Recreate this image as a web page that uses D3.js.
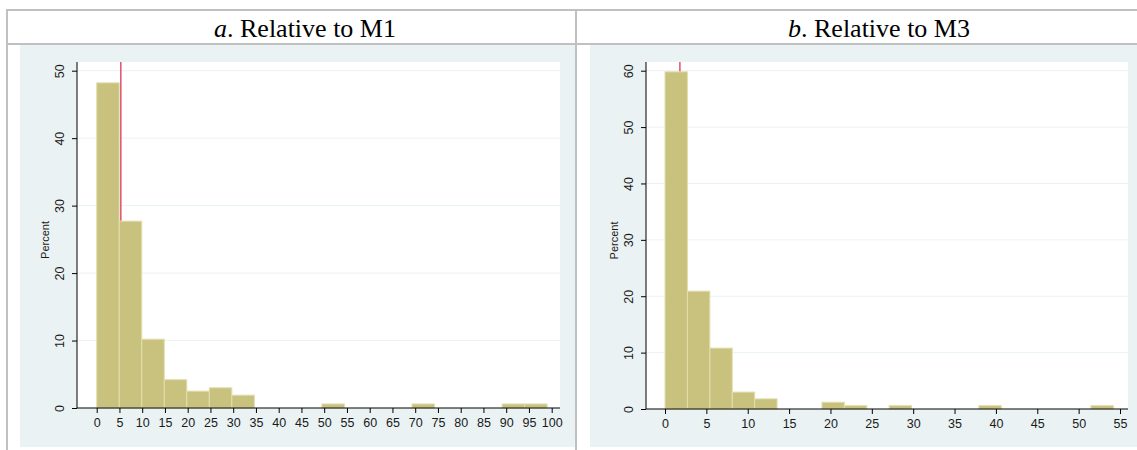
<!DOCTYPE html>
<html>
<head>
<meta charset="utf-8">
<script src="https://cdn.jsdelivr.net/npm/d3@7"></script>
<style>
body { margin: 0; background: #fff; }
</style>
</head>
<body>
<script>
// panel a: relative to M1, 20 bins of width 4.95
var binsA = [0, 1, 2, 3, 4, 5, 6, 10, 14, 18, 19]
var pctA = [48.2, 27.7, 10.2, 4.2, 2.5, 3.0, 1.9, 0.6, 0.6, 0.6, 0.6]
var widthA = 4.95
var lineA = 5.3
var xTicksA = d3.range(0, 101, 5)
var yTicksA = [0, 10, 20, 30, 40, 50]

// panel b: relative to M3, 20 bins of width 2.71
var binsB = [0, 1, 2, 3, 4, 7, 8, 10, 14, 19]
var pctB = [59.8, 20.9, 10.8, 3.0, 1.8, 1.2, 0.6, 0.6, 0.6, 0.6]
var widthB = 2.71
var lineB = 1.8
var xTicksB = d3.range(0, 56, 5)
var yTicksB = [0, 10, 20, 30, 40, 50, 60]

var titles = ['a', 'b']
var titleRest = ['. Relative to M1', '. Relative to M3']

var svg = d3.select('body').append('svg')
  .attr('width', 1137)
  .attr('height', 450)

// table lines
var grid = '#C0C0C0'
svg.append('line').attr('x1', 6).attr('x2', 1137).attr('y1', 10).attr('y2', 10).attr('stroke', grid).attr('stroke-width', 2)
svg.append('line').attr('x1', 6).attr('x2', 1137).attr('y1', 44).attr('y2', 44).attr('stroke', grid).attr('stroke-width', 2)
svg.append('line').attr('x1', 7).attr('x2', 7).attr('y1', 9).attr('y2', 450).attr('stroke', grid).attr('stroke-width', 2)
svg.append('line').attr('x1', 576).attr('x2', 576).attr('y1', 9).attr('y2', 450).attr('stroke', grid).attr('stroke-width', 2)

var titleX = [305, 879]
titles.forEach(function(t, i){
  var tx = svg.append('text')
    .attr('x', titleX[i])
    .attr('y', 37)
    .attr('text-anchor', 'middle')
    .attr('font-family', 'Liberation Serif, Times New Roman, serif')
    .attr('font-size', 26)
  tx.append('tspan').attr('font-style', 'italic').text(t)
  tx.append('tspan').text(titleRest[i])
})

function panel(cfg) {
  var g = svg.append('g')

  g.append('rect')
    .attr('x', cfg.bgX).attr('y', 45)
    .attr('width', cfg.bgW).attr('height', 402)
    .attr('fill', '#EAF2F3')

  var x = d3.scaleLinear().domain(cfg.xDomain).range(cfg.xRange)
  var y = d3.scaleLinear().domain([0, cfg.yMax]).range([cfg.y0, cfg.yTop])

  g.append('rect')
    .attr('x', cfg.plotL).attr('y', 62)
    .attr('width', cfg.plotR - cfg.plotL).attr('height', cfg.y0 - 62)
    .attr('fill', '#fff')

  // grid lines
  g.selectAll('.gl').data(cfg.yTicks.slice(1)).enter().append('line')
    .attr('x1', cfg.plotL).attr('x2', cfg.plotR)
    .attr('y1', function(d){ return y(d) }).attr('y2', function(d){ return y(d) })
    .attr('stroke', '#EAF2F3').attr('stroke-width', 1)

  // reference line
  g.append('line')
    .attr('x1', x(cfg.line)).attr('x2', x(cfg.line))
    .attr('y1', 62).attr('y2', cfg.y0)
    .attr('stroke', '#E0506E').attr('stroke-width', 1.5)

  // bars
  g.selectAll('.bar').data(cfg.bins).enter().append('rect')
    .attr('x', function(d){ return x(d * cfg.w) })
    .attr('width', function(d){ return x((d + 1) * cfg.w) - x(d * cfg.w) })
    .attr('y', function(d, i){ return y(cfg.pct[i]) })
    .attr('height', function(d, i){ return cfg.y0 - y(cfg.pct[i]) })
    .attr('fill', '#C8C27E')
    .attr('stroke', '#E2DEAE')
    .attr('stroke-width', 1)

  // y axis
  var yAxis = g.append('g')
    .attr('transform', 'translate(' + cfg.plotL + ',0)')
    .call(d3.axisLeft(y).tickValues(cfg.yTicks).tickSize(5).tickPadding(3))
  yAxis.select('.domain').attr('d', 'M0,62V' + cfg.y0).attr('stroke', '#000')
  yAxis.selectAll('.tick line').attr('stroke', '#000')
  yAxis.selectAll('.tick text')
    .attr('font-family', 'Arial, Liberation Sans, sans-serif')
    .attr('font-size', 12.5)
    .attr('fill', '#1a1a1a')
    .attr('x', null).attr('dy', null)
    .attr('text-anchor', 'middle')
    .attr('transform', 'translate(-18,0) rotate(-90)')
    .attr('y', 4.5)

  // x axis
  var xAxis = g.append('g')
    .attr('transform', 'translate(0,' + cfg.y0 + ')')
    .call(d3.axisBottom(x).tickValues(cfg.xTicks).tickSize(5).tickPadding(5))
  xAxis.select('.domain').attr('d', 'M' + cfg.plotL + ',0H' + cfg.plotR).attr('stroke', '#000')
  xAxis.selectAll('.tick line').attr('stroke', '#000')
  xAxis.selectAll('.tick text')
    .attr('font-family', 'Arial, Liberation Sans, sans-serif')
    .attr('font-size', 12.5)
    .attr('fill', '#1a1a1a')

  g.append('text')
    .attr('transform', 'translate(' + (cfg.plotL - 28) + ',' + ((62 + cfg.y0) / 2 + 5) + ') rotate(-90)')
    .attr('text-anchor', 'middle')
    .attr('font-family', 'Arial, Liberation Sans, sans-serif')
    .attr('font-size', 11)
    .attr('fill', '#1a1a1a')
    .text('Percent')
}

panel({
  bgX: 20, bgW: 555,
  plotL: 77, plotR: 560,
  xDomain: [0, 100], xRange: [96.7, 551.7],
  yMax: 50, yTop: 70.7, y0: 408,
  bins: binsA, pct: pctA, w: widthA, line: lineA,
  xTicks: xTicksA, yTicks: yTicksA
})

panel({
  bgX: 590, bgW: 547,
  plotL: 646, plotR: 1128,
  xDomain: [0, 55], xRange: [665, 1120],
  yMax: 60, yTop: 70.7, y0: 409,
  bins: binsB, pct: pctB, w: widthB, line: lineB,
  xTicks: xTicksB, yTicks: yTicksB
})
</script>
</body>
</html>
